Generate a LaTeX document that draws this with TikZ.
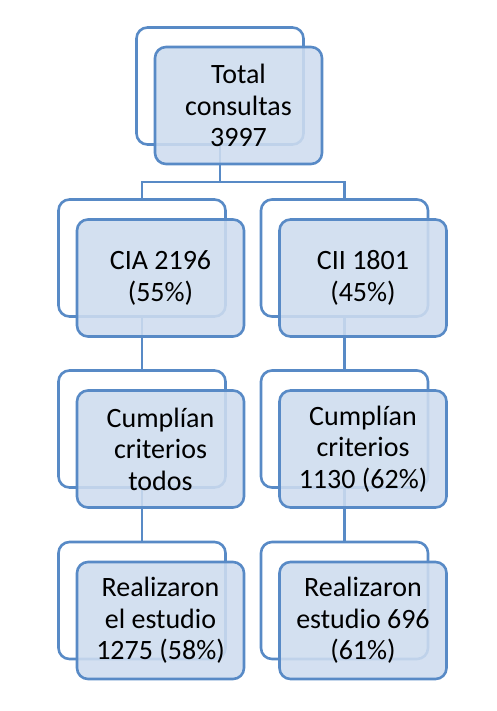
\documentclass[tikz,border=0pt]{standalone}
\usepackage{fontspec}
\setmainfont{Carlito}
\definecolor{edgeblue}{RGB}{88,138,198}
\definecolor{fillblue}{RGB}{206,220,239}
\begin{document}
\begin{tikzpicture}[x=1pt,y=-1pt,
  backbox/.style={draw=edgeblue, line width=2.6pt, rounded corners=11pt, fill=white,
    minimum width=167pt, minimum height=117pt, inner sep=0pt},
  frontbox/.style={draw=edgeblue, line width=2.6pt, rounded corners=11pt, fill=fillblue, fill opacity=0.88, text opacity=1,
    minimum width=167pt, minimum height=117pt, inner sep=0pt, align=center,
    font=\fontsize{28}{31.5}\selectfont},
  conn/.style={draw=edgeblue, line width=2.6pt}]
\useasboundingbox (0,0) rectangle (496,711);
% back boxes
\node[backbox] (topB) at (220,86) {};
\node[backbox] (l2B) at (142,258) {};
\node[backbox] (r2B) at (344.5,258) {};
\node[backbox] (l3B) at (142,429) {};
\node[backbox] (r3B) at (344.5,429) {};
\node[backbox] (l4B) at (142,600.5) {};
\node[backbox] (r4B) at (344.5,600.5) {};
% connectors
\coordinate (j) at (220,182);
\draw[conn] (topB.south) -- (j);
\draw[conn] (j) -| (l2B.north);
\draw[conn] (j) -| (r2B.north);
\draw[conn] (l2B.south) -- (l3B.north);
\draw[conn] (r2B.south) -- (r3B.north);
\draw[conn] (l3B.south) -- (l4B.north);
\draw[conn] (r3B.south) -- (r4B.north);
% front boxes
\node[frontbox] (topF) at (238.5,105.5) {Total\\consultas\\3997};
\node[frontbox] (l2F) at (160.5,278) {CIA 2196\\(55\%)};
\node[frontbox] (r2F) at (363,278) {CII 1801\\(45\%)};
\node[frontbox] (l3F) at (160.5,449) {Cumplían\\criterios\\todos};
\node[frontbox] (r3F) at (363,449) {Cumplían\\criterios\\1130 (62\%)};
\node[frontbox] (l4F) at (160.5,620.5) {Realizaron\\el estudio\\1275 (58\%)};
\node[frontbox] (r4F) at (363,620.5) {Realizaron\\estudio 696\\(61\%)};
\end{tikzpicture}
\end{document}
